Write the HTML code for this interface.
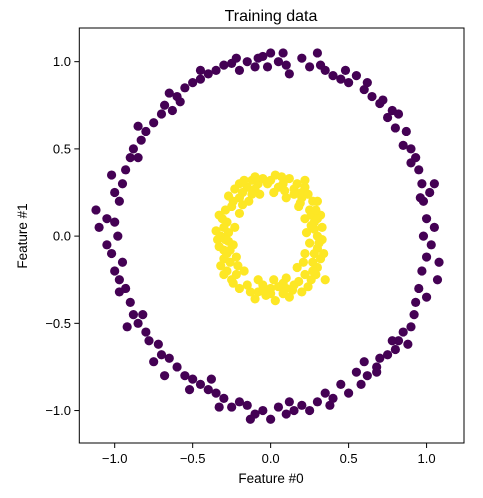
<!DOCTYPE html>
<html><head><meta charset="utf-8"><style>
body{margin:0;background:#fff;}
text{font-family:"Liberation Sans","DejaVu Sans",sans-serif;fill:#000;}
</style></head><body>
<svg id="chart" width="483" height="493" viewBox="0 0 483 493" xmlns="http://www.w3.org/2000/svg">
<text x="271" y="21" font-size="16" text-anchor="middle">Training data</text>
<g id="marks"></g>
<rect x="79.3" y="28" width="384.7" height="415" fill="none" stroke="#000" stroke-width="1"/>
<g id="axes"></g>
<text x="271" y="483" font-size="13.5" text-anchor="middle">Feature #0</text>
<text transform="translate(27,236) rotate(-90)" font-size="13.5" text-anchor="middle">Feature #1</text>
</svg>
<script>
const xTicks=[-1.0,-0.5,0.0,0.5,1.0];
const yTicks=[-1.0,-0.5,0.0,0.5,1.0];
const xTickLabels=["\u22121.0","\u22120.5","0.0","0.5","1.0"];
const yTickLabels=["\u22121.0","\u22120.5","0.0","0.5","1.0"];
const outerX=[0.0,0.05,0.1,-0.05,-0.1,-0.15,-0.2,-0.25,0.2,0.25,0.3,0.35,0.4,0.45,0.5,0.55,0.6,0.65,0.7,0.75,0.8,0.82,0.87,0.9,0.93,0.95,0.97,0.98,1.02,1.0,1.05,0.98,1.03,1.0,1.07,0.97,0.95,1.0,0.92,0.9,0.85,0.82,0.8,0.75,0.7,0.68,0.62,0.58,0.5,0.45,0.4,0.35,0.3,0.25,0.2,0.15,0.1,0.05,0.0,-0.05,-0.1,-0.15,-0.2,-0.25,-0.3,-0.35,-0.4,-0.45,-0.5,-0.55,-0.6,-0.65,-0.7,-0.72,-0.78,-0.8,-0.85,-0.88,-0.9,-0.93,-0.97,-1.0,-0.95,-1.02,-1.05,-0.98,-1.1,-1.0,-1.12,-0.97,-1.0,-0.95,-0.93,-0.9,-0.88,-0.83,-0.8,-0.75,-0.7,-0.68,-0.6,-0.55,-0.5,-0.45,-0.4,-0.35,-0.3,-0.58,-0.63,0.12,-0.02,0.78,0.9,1.05,-0.85,-0.92,-0.68,0.55,0.88,
0.08,-0.08,0.32,0.62,0.72,0.85,0.96,1.08,0.93,0.78,0.6,0.38,0.12,-0.13,-0.33,-0.52,-0.75,-0.82,-0.97,-1.05,-1.02,-0.85,-0.65,-0.45,-0.22,0.48,0.68,-0.38];
const outerY=[1.05,1.0,0.98,1.03,0.97,1.0,0.95,0.99,1.02,0.97,1.05,0.95,0.92,0.9,0.88,0.92,0.84,0.8,0.76,0.68,0.62,0.7,0.6,0.5,0.45,0.38,0.3,0.2,0.25,0.1,0.05,0.0,-0.05,-0.12,-0.25,-0.2,-0.3,-0.35,-0.45,-0.52,-0.55,-0.6,-0.65,-0.68,-0.7,-0.75,-0.8,-0.85,-0.9,-0.85,-0.93,-0.9,-0.95,-1.0,-0.97,-1.0,-1.02,-0.98,-1.05,-1.0,-1.02,-0.97,-0.95,-0.98,-0.93,-0.9,-0.88,-0.85,-0.82,-0.8,-0.75,-0.7,-0.68,-0.62,-0.6,-0.55,-0.5,-0.45,-0.38,-0.3,-0.25,-0.2,-0.15,-0.1,-0.05,0.0,0.05,0.08,0.15,0.2,0.25,0.3,0.38,0.45,0.5,0.55,0.6,0.65,0.7,0.75,0.8,0.85,0.88,0.9,0.93,0.95,0.98,0.77,0.72,0.93,0.97,0.72,0.42,0.3,0.45,-0.52,-0.8,-0.78,-0.62,
1.05,1.02,0.98,0.88,0.78,0.52,0.22,-0.15,-0.38,-0.6,-0.72,-0.97,-0.95,-1.05,-0.98,-0.88,-0.72,-0.45,-0.32,0.1,0.35,0.63,0.82,0.95,1.02,0.95,-0.78,-0.82];
const innerX=[0.3,0.28,0.25,0.2,0.15,0.08,0,-0.08,-0.15,-0.2,-0.25,-0.28,-0.32,-0.3,-0.26,-0.22,-0.15,-0.08,0,0.08,0.15,0.22,0.27,0.3,0.33,0.32,0.27,0.22,0.12,0.03,-0.05,-0.12,-0.2,-0.27,-0.33,-0.35,-0.33,-0.3,-0.28,-0.2,-0.1,0.03,0.12,0.2,0.26,0.3,0.34,0.33,0.23,0.22,0.18,0.1,0.02,-0.07,-0.14,-0.2,-0.23,-0.24,-0.22,-0.17,-0.08,0.02,0.1,0.17,0.22,0.25,0.26,0.2,0.05,-0.1,-0.24,-0.3,-0.27,-0.25,-0.05,0.18,0.28,0.3,-0.18,0.1,-0.3,0.35,
0.28,0.31,0.29,0.24,0.17,0.07,-0.02,-0.1,-0.17,-0.23,-0.29,-0.31,-0.34,-0.28,-0.32,-0.24,-0.13,-0.03,0.05,0.14,0.24,0.29,0.32,0.26,-0.27,-0.26,0.21,0.19,-0.12,0.0,0.09,-0.21,0.27,0.3,-0.18,0.15,-0.05,0.08,-0.29,0.22];
const innerY=[0,0.08,0.15,0.22,0.27,0.3,0.32,0.3,0.28,0.22,0.17,0.08,0,-0.08,-0.15,-0.22,-0.28,-0.32,-0.3,-0.33,-0.28,-0.22,-0.15,-0.07,0.05,0.12,0.2,0.28,0.33,0.35,0.33,0.32,0.3,0.23,0.12,0.03,-0.06,-0.13,-0.2,-0.3,-0.36,-0.37,-0.35,-0.32,-0.25,-0.18,-0.1,-0.02,0.02,0.1,0.17,0.22,0.25,0.24,0.2,0.13,0.05,-0.05,-0.12,-0.2,-0.25,-0.25,-0.24,-0.18,-0.1,-0.04,0.12,0.25,0.28,0.27,0.2,0.05,-0.03,-0.25,-0.28,-0.26,-0.1,0.2,0.25,-0.3,-0.22,-0.25,
0.04,-0.04,0.15,0.24,0.3,0.34,0.3,0.34,0.32,0.27,0.15,0.1,-0.02,-0.1,-0.17,-0.27,-0.32,-0.34,-0.29,-0.31,-0.29,-0.22,-0.13,0.06,0.02,-0.08,-0.15,0.19,0.24,-0.33,0.26,-0.17,-0.2,0.1,0.18,0.24,-0.31,-0.27,-0.02,0.32];

const NS="http://www.w3.org/2000/svg";
const X0=79.3,X1=464,XMIN=-1.227,XMAX=1.24;
const Y0=443,Y1=28,YMIN=-1.186,YMAX=1.193;
function sx(v){return X0+(v-XMIN)/(XMAX-XMIN)*(X1-X0);}
function sy(v){return Y0-(v-YMIN)/(YMAX-YMIN)*(Y0-Y1);}
const marks=document.getElementById('marks');
function drawSeries(xs,ys,color,name){
  for(let i=0;i<xs.length;i++){
    const c=document.createElementNS(NS,'circle');
    
    
    c.setAttribute('cx',sx(xs[i]));c.setAttribute('cy',sy(ys[i]));
    c.setAttribute('r',4.6);c.setAttribute('fill',color);
    marks.appendChild(c);
  }
}
drawSeries(outerX,outerY,'#440154','outer-point');
drawSeries(innerX,innerY,'#fde725','inner-point');
const axes=document.getElementById('axes');
xTicks.forEach((t,i)=>{
  const x=sx(t);
  const l=document.createElementNS(NS,'line');
  
  
  l.setAttribute('x1',x);l.setAttribute('x2',x);l.setAttribute('y1',443);l.setAttribute('y2',448);l.setAttribute('stroke','#000');
  axes.appendChild(l);
  const tx=document.createElementNS(NS,'text');
  
  
  tx.setAttribute('x',x);tx.setAttribute('y',463);tx.setAttribute('font-size','13');tx.setAttribute('text-anchor','middle');
  tx.textContent=xTickLabels[i];axes.appendChild(tx);
});
yTicks.forEach((t,i)=>{
  const y=sy(t);
  const l=document.createElementNS(NS,'line');
  
  
  l.setAttribute('x1',74.3);l.setAttribute('x2',79.3);l.setAttribute('y1',y);l.setAttribute('y2',y);l.setAttribute('stroke','#000');
  axes.appendChild(l);
  const tx=document.createElementNS(NS,'text');
  
  
  tx.setAttribute('x',71);tx.setAttribute('y',y+4.5);tx.setAttribute('font-size','13');tx.setAttribute('text-anchor','end');
  tx.textContent=yTickLabels[i];axes.appendChild(tx);
});
</script>
</body></html>
